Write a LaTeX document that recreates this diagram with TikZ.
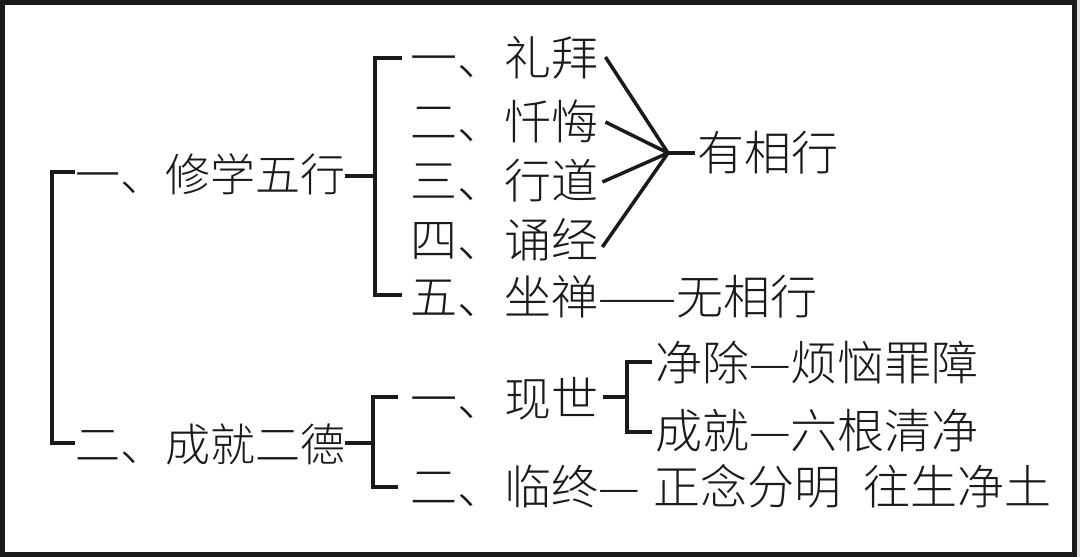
\documentclass[tikz,border=0pt]{standalone}
\usepackage{fontspec}
\setmainfont{Noto Sans CJK SC}[UprightFont={* Light}]
\usetikzlibrary{calc}
\definecolor{ink}{HTML}{1A1A1A}
\tikzset{
  lvlone/.style={anchor=west, inner sep=0pt, text height=39.6pt, text depth=5.4pt, font=\fontsize{45}{45}\selectfont, text=ink},
  lvltwo/.style={anchor=west, inner sep=0pt, text height=41.4pt, text depth=5.6pt, font=\fontsize{47}{47}\selectfont, text=ink},
  link/.style={draw=ink, line width=3.5pt},
  frame/.style={draw=ink, line width=5pt}
}
\begin{document}
\begin{tikzpicture}[x=1pt, y=-1pt]
\useasboundingbox (0,0) rectangle (1080,557);
\fill[white] (0,0) rectangle (1080,557);
\fill[black!12] (1076,0) rectangle (1080,557);
\draw[frame] (2.5,2.5) rectangle (1074.5,554.5);

% first level
\node[lvlone] (n1) at (75,174) {一、修学五行};
\node[lvlone] (n2) at (75,444) {二、成就二德};

% second level, branch one
\node[lvltwo] (a1) at (410,58) {一、礼拜};
\node[lvltwo] (a2) at (410,122) {二、忏悔};
\node[lvltwo] (a3) at (410,181) {三、行道};
\node[lvltwo] (a4) at (410,240) {四、诵经};
\node[lvltwo] (a5) at (410,297) {五、坐禅——无相行};
\node[lvltwo] (yx) at (697,153) {有相行};

% second level, branch two
\node[lvltwo] (b1) at (410,399) {一、现世};
\node[lvltwo] (b2) at (410,487) {二、临终—\hspace{0.3em}正念分明\hspace{0.45em}往生净土};
\node[lvltwo] (c1) at (655,363) {净除—烦恼罪障};
\node[lvltwo] (c2) at (655,431) {成就—六根清净};

% main bracket
\draw[link] ($(n1.west)+(0,-2)$) -- ++(-23,0) |- ($(n2.west)+(0,-1)$);

% bracket of five practices
\coordinate (k1) at (375,176);
\draw[link] ($(n1.east)+(0,2)$) -- (k1);
\draw[link] ($(a1.west)+(-8,0)$) -- ++(-27,0) |- ($(a5.west)+(-8,-2)$);

% fan to 有相行
\coordinate (apex) at (668,153);
\draw[link] ($(a1.east)+(7,-1)$) -- (apex);
\draw[link] ($(a2.east)+(7,0)$) -- (apex);
\draw[link] ($(a3.east)+(4,1)$) -- (apex);
\draw[link] ($(a4.east)+(4,7)$) -- (apex);
\draw[link] (apex) -- ($(yx.west)+(-2,0)$);

% bracket of two virtues
\draw[link] ($(n2.east)+(0,-1)$) -- (373,443);
\draw[link] ($(b1.west)+(-12,-2)$) -- ++(-25,0) |- ($(b2.west)+(-12,0)$);

% bracket of present life
\draw[link] ($(b1.east)+(5,-2)$) -- (627,397);
\draw[link] ($(c1.west)+(-3,-1)$) -- ++(-25,0) |- ($(c2.west)+(-3,1)$);
\end{tikzpicture}
\end{document}
